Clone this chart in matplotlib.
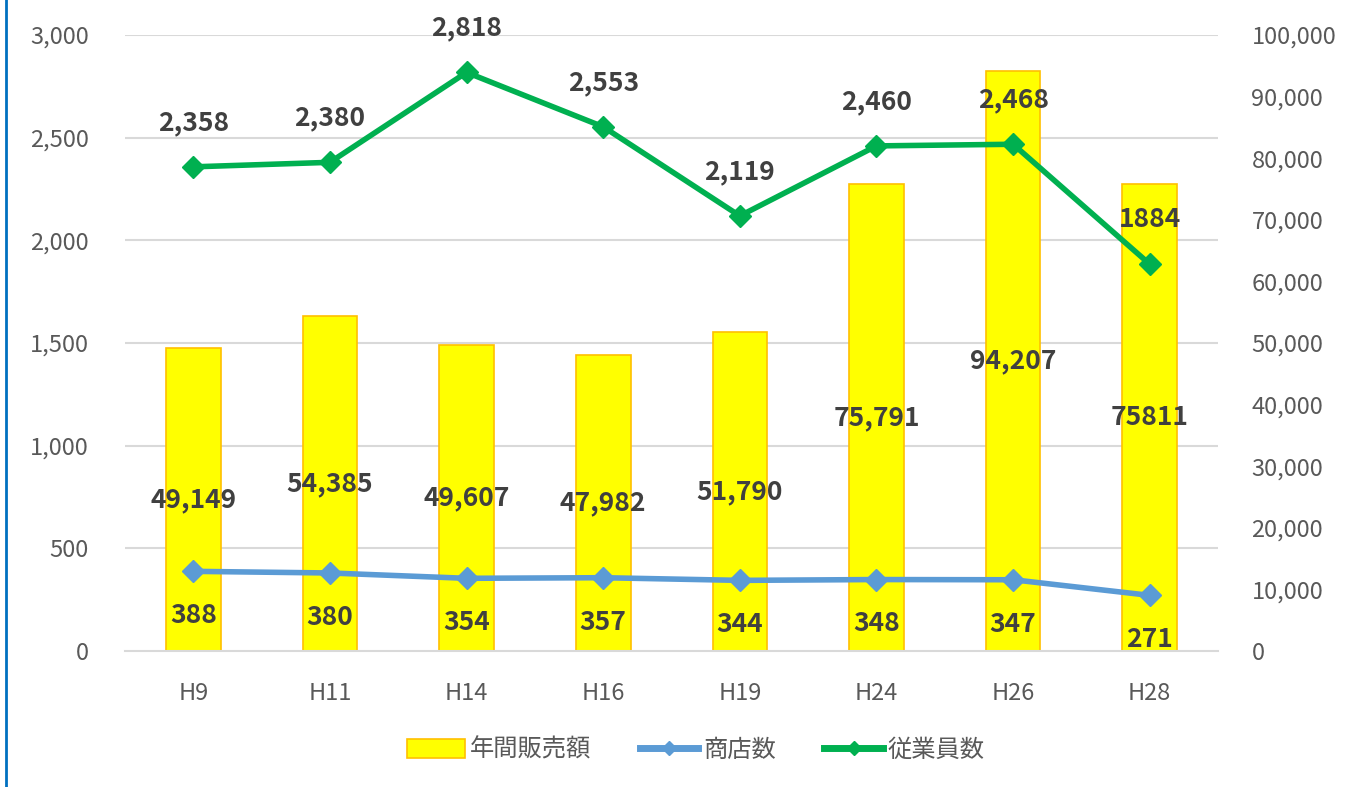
import numpy as np
import matplotlib.pyplot as plt
from matplotlib.lines import Line2D
from matplotlib.ticker import FuncFormatter

plt.rcParams['font.family'] = ['Noto Sans CJK JP', 'DejaVu Sans']

years = ["H9", "H11", "H14", "H16", "H19", "H24", "H26", "H28"]
sales = [49149, 54385, 49607, 47982, 51790, 75791, 94207, 75811]
sales_lbl = ["49,149", "54,385", "49,607", "47,982", "51,790", "75,791", "94,207", "75811"]
shops = [388, 380, 354, 357, 344, 348, 347, 271]
staff = [2358, 2380, 2818, 2553, 2119, 2460, 2468, 1884]
staff_lbl = ["2,358", "2,380", "2,818", "2,553", "2,119", "2,460", "2,468", "1884"]

fig = plt.figure(figsize=(13.51, 7.87), dpi=100)
ax = fig.add_axes([0.0925, 0.1728, 0.8091, 0.7827])
ax2 = ax.twinx()
x = np.arange(len(years))

LBL = dict(fontsize=19, fontweight="bold", color="#404040")

ax2.set_facecolor("#FFFFC0")
# gridlines follow the left axis (every 500)
for g in range(500, 3001, 500):
    ax2.axhline(g / 3000 * 100000, color="#D9D9D9", lw=1.5, zorder=1)
ax2.bar(x, sales, width=0.4, color="#FFFF00", edgecolor="#FFC000", linewidth=1.2, label="年間販売額", zorder=2)
for xi, v, s in zip(x, sales, sales_lbl):
    ax2.text(xi, v / 2, s, ha="center", va="center", zorder=5, **LBL)

ax2.set_ylim(0, 100000)
ax.set_ylim(0, 3000)
ax.set_xlim(-0.5, len(years) - 0.5)
ax.set_zorder(ax2.get_zorder() + 1)
ax.patch.set_visible(False)

ax.plot(x, shops, color="#5B9BD5", lw=4, marker="D", ms=11, label="商店数", zorder=4)
ax.plot(x, staff, color="#00B050", lw=4, marker="D", ms=11, label="従業員数", zorder=4)
for xi, v in zip(x, shops):
    ax.annotate(str(v), (xi, v), xytext=(0, -32), textcoords="offset points", ha="center", va="center", **LBL)
for xi, v, s in zip(x, staff, staff_lbl):
    ax.annotate(s, (xi, v), xytext=(0, 32), textcoords="offset points", ha="center", va="center", **LBL)

ax.set_yticks(np.arange(0, 3001, 500))
ax2.set_yticks(np.arange(0, 100001, 10000))
fmt = FuncFormatter(lambda v, p: f"{int(v):,}")
ax.yaxis.set_major_formatter(fmt)
ax2.yaxis.set_major_formatter(fmt)
ax.set_xticks(x)
ax.set_xticklabels(years)
for a in (ax, ax2):
    for sp in a.spines.values():
        sp.set_visible(False)
    a.tick_params(length=0, labelsize=17, colors="#595959")
ax.tick_params(axis="y", pad=26)
ax2.tick_params(axis="y", pad=24)
ax.tick_params(axis="x", pad=22)
ax2.spines["bottom"].set_visible(True)
ax2.spines["bottom"].set_color("#D9D9D9")
ax2.spines["bottom"].set_linewidth(1.5)

h1, l1 = ax2.get_legend_handles_labels()
h2, l2 = ax.get_legend_handles_labels()
h2 = [Line2D([], [], color=h.get_color(), lw=5, marker="D", ms=7) for h in h2]
fig.legend(h1 + h2, l1 + l2, loc="center", bbox_to_anchor=(0.515, 0.047), ncol=3, frameon=False,
           fontsize=17.5, labelcolor="#595959", handlelength=2.4, handleheight=0.8,
           columnspacing=2.0, handletextpad=0.2)

fig.add_artist(Line2D([0.0045, 0.0045], [0, 1], color="#0070C0", lw=2))

fig.savefig("out.png", dpi=100)
